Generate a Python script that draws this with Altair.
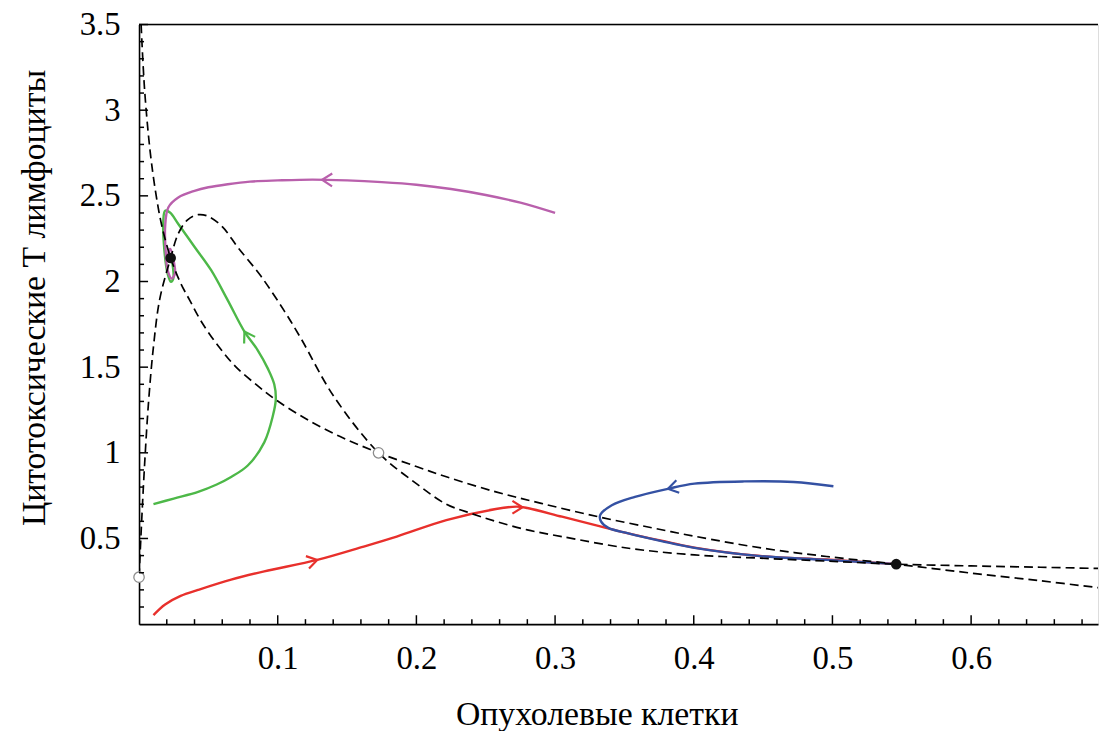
import altair as alt
import pandas as pd

FONT = "Liberation Serif, Times New Roman, Times, serif"
MAG = "#b960ac"
GREEN = "#4db848"
RED = "#e8302c"
BLUE = "#3451a3"

# ---- data ----
tnull_x = [0.0015, 0.004, 0.008, 0.012, 0.0163, 0.0228, 0.030, 0.0366, 0.045, 0.057, 0.070, 0.085,
           0.0986, 0.120, 0.145, 0.1727, 0.200, 0.2216, 0.2573, 0.290, 0.331, 0.370, 0.4005, 0.450,
           0.4957, 0.546, 0.600, 0.650, 0.6915]
tnull_y = [3.50, 3.12, 2.76, 2.52, 2.33, 2.137, 1.99, 1.89, 1.765, 1.625, 1.50, 1.395,
           1.31, 1.20, 1.095, 1.00, 0.92, 0.86, 0.772, 0.705, 0.627, 0.562, 0.513, 0.443,
           0.395, 0.350, 0.298, 0.253, 0.213]

enull_x = [0.0, 0.002, 0.004, 0.0068, 0.0104, 0.015, 0.0228, 0.0283, 0.035, 0.0426, 0.050, 0.060,
           0.0712, 0.088, 0.1046, 0.1166, 0.1404, 0.1727, 0.200, 0.2216, 0.240, 0.2573, 0.280,
           0.305, 0.353, 0.4005, 0.448, 0.4957, 0.546, 0.600, 0.650, 0.6915]
enull_y = [0.274, 0.62, 0.93, 1.29, 1.62, 1.90, 2.137, 2.28, 2.36, 2.39, 2.38, 2.32,
           2.20, 2.03, 1.83, 1.67, 1.33, 1.00, 0.82, 0.70, 0.645, 0.60, 0.55,
           0.511, 0.443, 0.404, 0.385, 0.368, 0.35, 0.34, 0.332, 0.325]

mag_x = [0.300, 0.275, 0.250, 0.225, 0.200, 0.175, 0.150, 0.125, 0.100, 0.080, 0.064, 0.050, 0.040,
         0.0283, 0.0211, 0.0188, 0.0192, 0.0206, 0.0235, 0.0259, 0.0250, 0.0225, 0.0212, 0.0218, 0.0228]
mag_y = [2.40, 2.46, 2.505, 2.54, 2.565, 2.58, 2.59, 2.595, 2.59, 2.583, 2.568, 2.55, 2.529,
         2.49, 2.432, 2.316, 2.18, 2.066, 2.017, 2.046, 2.12, 2.19, 2.17, 2.125, 2.137]

green_x = [0.0104, 0.025, 0.0426, 0.0560, 0.0664, 0.0784, 0.0903, 0.0965, 0.0986, 0.0975, 0.0930,
           0.0855, 0.0760, 0.0640, 0.0520, 0.0402, 0.0283, 0.0223, 0.0188, 0.0175, 0.0183, 0.0206,
           0.0230, 0.0247, 0.0245, 0.0233]
green_y = [0.700, 0.733, 0.772, 0.815, 0.859, 0.926, 1.061, 1.216, 1.312, 1.40, 1.49,
           1.60, 1.708, 1.89, 2.066, 2.20, 2.336, 2.403, 2.413, 2.355, 2.18, 2.046,
           1.998, 2.017, 2.08, 2.137]

red_x = [0.0104, 0.0188, 0.030, 0.0426, 0.0664, 0.0903, 0.1285, 0.162, 0.1858, 0.2216, 0.2573,
         0.272, 0.280, 0.305, 0.329, 0.3528, 0.3767, 0.4005, 0.448, 0.4959, 0.546]
red_y = [0.053, 0.115, 0.165, 0.20, 0.26, 0.308, 0.375, 0.453, 0.511, 0.607, 0.672,
         0.686, 0.678, 0.627, 0.578, 0.53, 0.487, 0.447, 0.398, 0.377, 0.35]

blue_x = [0.5007, 0.472, 0.4363, 0.4005, 0.3814, 0.3576, 0.3409, 0.3325, 0.3332, 0.3384, 0.3528,
          0.3767, 0.4005, 0.448, 0.4959, 0.546]
blue_y = [0.805, 0.83, 0.833, 0.82, 0.79, 0.743, 0.694, 0.636, 0.598, 0.562, 0.53,
          0.485, 0.445, 0.397, 0.375, 0.35]

arrow_x = [0.132, 0.076, 0.1285, 0.2765, 0.3814]
arrow_y = [2.594, 1.708, 0.375, 0.682, 0.790]
arrow_ang = [181, 239, 346, 0, 167]
arrow_col = [MAG, GREEN, RED, RED, BLUE]

stable_x = [0.0228, 0.546]
stable_y = [2.137, 0.350]
unstable_x = [0.0, 0.1727]
unstable_y = [0.274, 1.0]

x_major = [0.1, 0.2, 0.3, 0.4, 0.5, 0.6]
y_major = [0.5, 1, 1.5, 2, 2.5, 3, 3.5]
x_minor = [0.02, 0.04, 0.06, 0.08, 0.12, 0.14, 0.16, 0.18, 0.22, 0.24, 0.26, 0.28,
           0.32, 0.34, 0.36, 0.38, 0.42, 0.44, 0.46, 0.48, 0.52, 0.54, 0.56, 0.58,
           0.62, 0.64, 0.66, 0.68]
y_minor = [0.1, 0.2, 0.3, 0.4, 0.6, 0.7, 0.8, 0.9, 1.1, 1.2, 1.3, 1.4, 1.6, 1.7, 1.8, 1.9,
           2.1, 2.2, 2.3, 2.4, 2.6, 2.7, 2.8, 2.9, 3.1, 3.2, 3.3, 3.4]

XMAX = 0.6915
XS = alt.Scale(domain=[0, XMAX], nice=False, zero=False)
YS = alt.Scale(domain=[0, 3.5], nice=False, zero=False)

# inward tick lengths in data units (about 9 px major, 5 px minor)
XT_MAJ, XT_MIN = 0.052, 0.029
YT_MAJ, YT_MIN = 0.0065, 0.0036


def cdf(name, col, xs, ys):
    return pd.DataFrame({"x": xs, "y": ys, "curve": name, "col": col, "i": list(range(len(xs)))})


null_df = pd.concat([cdf("T", "black", tnull_x, tnull_y), cdf("E", "black", enull_x, enull_y)])
traj_df = pd.concat([
    cdf("red", RED, red_x, red_y),
    cdf("blue", BLUE, blue_x, blue_y),
    cdf("green", GREEN, green_x, green_y),
    cdf("mag", MAG, mag_x, mag_y),
])
arrow_df = pd.DataFrame({"x": arrow_x, "y": arrow_y, "ang": arrow_ang, "col": arrow_col})
stable_df = pd.DataFrame({"x": stable_x, "y": stable_y})
unstable_df = pd.DataFrame({"x": unstable_x, "y": unstable_y})

xt_df = pd.DataFrame({
    "x": x_major + x_minor,
    "y": [0.0] * (len(x_major) + len(x_minor)),
    "y2": [XT_MAJ] * len(x_major) + [XT_MIN] * len(x_minor),
})
yt_df = pd.DataFrame({
    "y": y_major + y_minor,
    "x": [0.0] * (len(y_major) + len(y_minor)),
    "x2": [YT_MAJ] * len(y_major) + [YT_MIN] * len(y_minor),
})
top_df = pd.DataFrame({"y": [3.5]})

x_axis = alt.Axis(
    orient="bottom", values=x_major, format="~g", ticks=False, grid=False,
    domain=True, domainColor="black", domainWidth=1.6,
    labelFont=FONT, labelFontSize=33, labelColor="black", labelPadding=19,
    labelFlush=False, labelOverlap=False,
    titleFont=FONT, titleFontSize=34, titleFontWeight="normal", titleColor="black",
    titleX=461, titleY=101, titleBaseline="alphabetic", titleAlign="center",
)
y_axis = alt.Axis(
    orient="left", values=y_major, format="~g", ticks=False, grid=False,
    domain=True, domainColor="black", domainWidth=1.6,
    labelFont=FONT, labelFontSize=33, labelColor="black", labelPadding=19,
    labelFlush=False, labelOverlap=False,
    titleFont=FONT, titleFontSize=34, titleFontWeight="normal", titleColor="black",
    titleX=-95, titleY=275, titleAngle=270, titleBaseline="alphabetic", titleAlign="center",
)

X = alt.X("x:Q", scale=XS, axis=x_axis, title="Опухолевые клетки")
Y = alt.Y("y:Q", scale=YS, axis=y_axis, title="Цитотоксические Т лимфоциты")

traj = alt.Chart(traj_df).mark_line(strokeWidth=2.4, clip=True, interpolate="catmull-rom").encode(
    x=X, y=Y,
    color=alt.Color("col:N", scale=None),
    detail="curve:N",
    order="i:Q",
)

nulls = alt.Chart(null_df).mark_line(
    color="black", strokeWidth=1.7, strokeDash=[9, 5], clip=True, interpolate="catmull-rom"
).encode(x=X, y=Y, detail="curve:N", order="i:Q")

arrows = alt.Chart(arrow_df).mark_point(
    shape="M-1.1,-0.7L0,0L-1.1,0.7", filled=False, size=340, strokeWidth=2.2, opacity=1
).encode(
    x=X, y=Y,
    color=alt.Color("col:N", scale=None),
    angle=alt.Angle("ang:Q", scale=None),
)

stable = alt.Chart(stable_df).mark_point(
    shape="circle", filled=True, color="#111111", size=115, opacity=1
).encode(x=X, y=Y)

unstable = alt.Chart(unstable_df).mark_point(
    shape="circle", filled=True, fill="white", stroke="#8c8c8c", strokeWidth=1.3, size=110, opacity=1
).encode(x=X, y=Y)

top_border = alt.Chart(top_df).mark_rule(color="black", strokeWidth=1.4).encode(y=Y)
xticks = alt.Chart(xt_df).mark_rule(color="black", strokeWidth=1.5).encode(x=X, y=Y, y2="y2:Q")
yticks = alt.Chart(yt_df).mark_rule(color="black", strokeWidth=1.5).encode(x=X, x2="x2:Q", y=Y)

chart = alt.layer(
    traj, nulls, arrows, stable, unstable, top_border, xticks, yticks
).properties(
    width=966, height=604,
    padding={"left": 132, "top": 14, "right": 1, "bottom": 105},
    autosize=alt.AutoSizeParams(type="none"),
    background="white",
).configure_view(stroke=None).configure(font=FONT)

chart.save("out.html", embed_options={"renderer": "svg", "actions": False})
